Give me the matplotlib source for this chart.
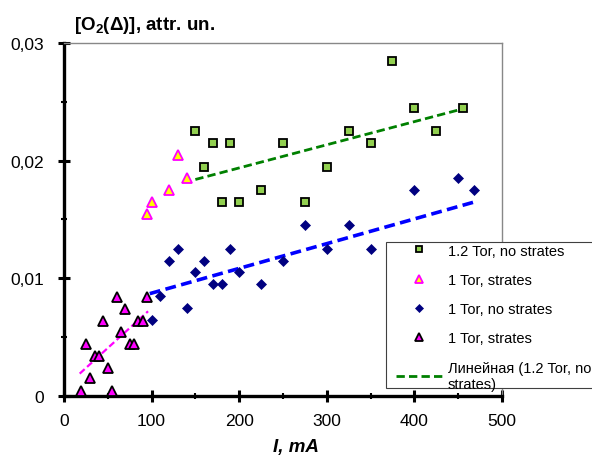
import matplotlib
matplotlib.use("Agg")
import matplotlib.pyplot as plt
import matplotlib.ticker as mticker
from matplotlib.patches import Rectangle
import numpy as np

plt.rcParams.update({"font.family": ["Liberation Sans", "DejaVu Sans"],
                     "mathtext.fontset": "custom",
                     "mathtext.rm": "Liberation Sans:bold",
                     "mathtext.bf": "Liberation Sans:bold"})

# 1.2 Tor, no strates
x_g = [150, 160, 170, 180, 190, 200, 225, 250, 275, 300, 325, 350, 375, 400, 425, 455]
y_g = [0.0225, 0.0195, 0.0215, 0.0165, 0.0215, 0.0165, 0.0175, 0.0215, 0.0165,
       0.0195, 0.0225, 0.0215, 0.0285, 0.0245, 0.0225, 0.0245]
# 1 Tor, strates (yellow)
x_y = [95, 100, 120, 130, 140]
y_y = [0.0155, 0.0165, 0.0175, 0.0205, 0.0185]
# 1 Tor, no strates
x_b = [100, 110, 120, 130, 140, 150, 160, 170, 180, 190, 200, 225, 250,
       275, 300, 325, 350, 400, 450, 468]
y_b = [0.0065, 0.0085, 0.0115, 0.0125, 0.0075, 0.0105, 0.0115, 0.0095, 0.0095,
       0.0125, 0.0105, 0.0095, 0.0115, 0.0145, 0.0125, 0.0145, 0.0125, 0.0175,
       0.0185, 0.0175]
# 1 Tor, strates (magenta)
x_m = [20, 25, 30, 35, 40, 45, 50, 55, 60, 65, 70, 75, 80, 85, 90, 95]
y_m = [0.0004, 0.0044, 0.0015, 0.0034, 0.0034, 0.0064, 0.0024, 0.0004, 0.0084,
       0.0054, 0.0074, 0.0044, 0.0044, 0.0064, 0.0064, 0.0084]

# linear trend lines, end points
tx_g, ty_g = [150, 455], [0.0184, 0.0244]
tx_b, ty_b = [98, 469], [0.0087, 0.0165]
tx_m, ty_m = [18, 96], [0.0019, 0.0072]

fig = plt.figure(figsize=(5.92, 4.56), dpi=100)
ax = fig.add_axes([0.108, 0.1294, 0.740, 0.7741])

dash = (0, (3, 1.5))
h_line, = ax.plot(tx_g, ty_g, color="#008000", lw=2.0, ls=dash, zorder=2,
                  label="Линейная (1.2 Tor, no\nstrates)")
ax.plot(tx_b, ty_b, color="#0000ff", lw=2.6, ls=dash, zorder=2)
ax.plot(tx_m, ty_m, color="#ff00ff", lw=1.6, ls=dash, zorder=2)

h_g, = ax.plot(x_g, y_g, "s", ms=5.5, mfc="#92d050", mec="black", mew=1.3,
               ls="none", label="1.2 Tor, no strates", zorder=3)
h_y, = ax.plot(x_y, y_y, "^", ms=6.5, mfc="#ffff00", mec="#ff00ff", mew=1.3,
               ls="none", label="1 Tor, strates", zorder=3)
h_b, = ax.plot(x_b, y_b, "D", ms=5.5, mfc="#000080", mec="#000080", mew=0.5,
               ls="none", label="1 Tor, no strates", zorder=3)
h_m, = ax.plot(x_m, y_m, "^", ms=6.5, mfc="#ff00ff", mec="black", mew=1.3,
               ls="none", label="1 Tor, strates", zorder=3)

ax.set_xlim(0, 500)
ax.set_ylim(0, 0.03)
ax.set_xticks(np.arange(0, 501, 100))
ax.set_yticks([0, 0.01, 0.02, 0.03])
ax.xaxis.set_minor_locator(mticker.MultipleLocator(50))
ax.yaxis.set_minor_locator(mticker.MultipleLocator(0.005))
ax.yaxis.set_major_formatter(mticker.FuncFormatter(
    lambda v, _: "0" if abs(v) < 1e-9 else f"{v:.2f}".replace(".", ",")))
ax.tick_params(which="major", direction="inout", length=8, width=2.2,
               labelsize=12.5)
ax.tick_params(axis="y", which="major", pad=10)
ax.tick_params(axis="x", which="major", pad=8)
ax.tick_params(which="minor", direction="inout", length=4, width=1.5)
for s in ("left", "bottom"):
    ax.spines[s].set_linewidth(2.4)
    ax.spines[s].set_color("black")
for s in ("top", "right"):
    ax.spines[s].set_linewidth(1.0)
    ax.spines[s].set_color("#888888")

ax.set_xlabel("I, mA", fontsize=13.5, fontweight="bold", style="italic")
ax.xaxis.set_label_coords(0.53, -0.12)
fig.text(74 / 592, 1 - 25 / 456, r"[O$_\mathbf{2}$($\Delta$)], attr. un.",
         fontsize=13.5, fontweight="bold", va="center", ha="left")

# legend frame drawn separately (content sits tight at top, padded at left)
fig.patches.append(Rectangle((386 / 592, 1 - 389 / 456), (600 - 386) / 592,
                             (389 - 243) / 456, transform=fig.transFigure,
                             fc="white", ec="#404040", lw=0.8, zorder=1))
leg = fig.legend(handles=[h_g, h_y, h_b, h_m, h_line],
                 loc="upper left", bbox_to_anchor=(396 / 592, 1 - 244.5 / 456),
                 borderaxespad=0, fontsize=10.5, numpoints=1, frameon=False,
                 labelspacing=1.05, handlelength=3.2, handletextpad=0.35,
                 borderpad=0.0, markerscale=0.8)
leg.set_zorder(5)

fig.savefig("out.png", dpi=100)
